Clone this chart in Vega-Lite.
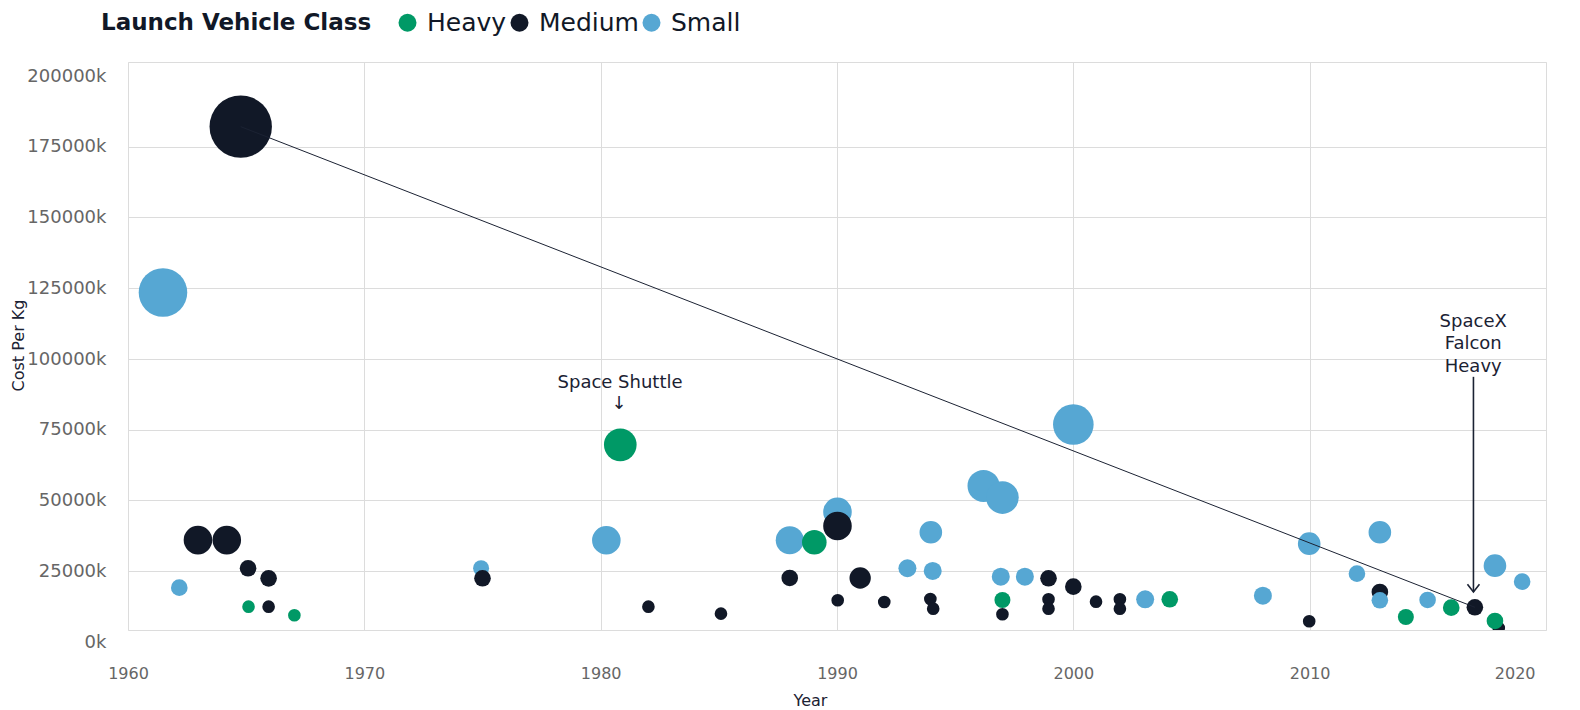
{
  "$schema": "https://vega.github.io/schema/vega-lite/v6.json",
  "autosize": "none",
  "width": 1418,
  "height": 568,
  "padding": {"left": 128, "top": 62, "right": 34, "bottom": 80},
  "background": "white",
  "config": {
    "font": "DejaVu Sans",
    "view": {"stroke": "#dcdcdc", "strokeWidth": 1},
    "axis": {
      "gridColor": "#dcdcdc",
      "gridWidth": 1,
      "ticks": false,
      "domain": false,
      "labelColor": "#666666",
      "labelFontSize": 16,
      "titleColor": "#1b2233",
      "titleFontSize": 16,
      "titleFontWeight": "normal"
    }
  },
  "datasets": {
    "launches": [
      {"Year": 1961.48, "Cost": 123500, "Class": "Small", "Size": 590},
      {"Year": 1962.17, "Cost": 19200, "Class": "Small", "Size": 69},
      {"Year": 1962.96, "Cost": 36000, "Class": "Medium", "Size": 204},
      {"Year": 1964.18, "Cost": 36000, "Class": "Medium", "Size": 204},
      {"Year": 1965.08, "Cost": 26050, "Class": "Medium", "Size": 69},
      {"Year": 1965.95, "Cost": 22500, "Class": "Medium", "Size": 69},
      {"Year": 1965.1, "Cost": 12480, "Class": "Heavy", "Size": 40},
      {"Year": 1965.95, "Cost": 12480, "Class": "Medium", "Size": 40},
      {"Year": 1967.04, "Cost": 9440, "Class": "Heavy", "Size": 40},
      {"Year": 1964.77, "Cost": 182100, "Class": "Medium", "Size": 973},
      {"Year": 1974.94, "Cost": 26060, "Class": "Small", "Size": 64},
      {"Year": 1975.0, "Cost": 22520, "Class": "Medium", "Size": 69},
      {"Year": 1980.24, "Cost": 35960, "Class": "Small", "Size": 204},
      {"Year": 1980.83, "Cost": 69660, "Class": "Heavy", "Size": 266},
      {"Year": 1982.02, "Cost": 12480, "Class": "Medium", "Size": 40},
      {"Year": 1985.09, "Cost": 10020, "Class": "Medium", "Size": 40},
      {"Year": 1988.0, "Cost": 35960, "Class": "Small", "Size": 196},
      {"Year": 1988.0, "Cost": 22630, "Class": "Medium", "Size": 69},
      {"Year": 1989.04, "Cost": 35260, "Class": "Heavy", "Size": 151},
      {"Year": 1990.02, "Cost": 45970, "Class": "Small", "Size": 204},
      {"Year": 1990.02, "Cost": 41020, "Class": "Medium", "Size": 204},
      {"Year": 1990.03, "Cost": 14740, "Class": "Medium", "Size": 40},
      {"Year": 1990.98, "Cost": 22630, "Class": "Medium", "Size": 114},
      {"Year": 1992.0, "Cost": 14140, "Class": "Medium", "Size": 40},
      {"Year": 1992.98, "Cost": 26060, "Class": "Small", "Size": 81},
      {"Year": 1993.97, "Cost": 38790, "Class": "Small", "Size": 128},
      {"Year": 1994.05, "Cost": 25100, "Class": "Small", "Size": 81},
      {"Year": 1993.95, "Cost": 15200, "Class": "Medium", "Size": 40},
      {"Year": 1994.07, "Cost": 11780, "Class": "Medium", "Size": 40},
      {"Year": 1996.2, "Cost": 55160, "Class": "Small", "Size": 256},
      {"Year": 1997.0, "Cost": 51030, "Class": "Small", "Size": 266},
      {"Year": 1996.93, "Cost": 23090, "Class": "Small", "Size": 81},
      {"Year": 1997.95, "Cost": 23090, "Class": "Small", "Size": 81},
      {"Year": 1998.95, "Cost": 22520, "Class": "Medium", "Size": 69},
      {"Year": 2000.0, "Cost": 76840, "Class": "Small", "Size": 412},
      {"Year": 2000.0, "Cost": 19560, "Class": "Medium", "Size": 69},
      {"Year": 1997.0, "Cost": 14850, "Class": "Heavy", "Size": 64},
      {"Year": 1997.0, "Cost": 9790, "Class": "Medium", "Size": 40},
      {"Year": 1998.95, "Cost": 15100, "Class": "Medium", "Size": 40},
      {"Year": 1998.95, "Cost": 11780, "Class": "Medium", "Size": 40},
      {"Year": 2000.96, "Cost": 14250, "Class": "Medium", "Size": 40},
      {"Year": 2001.97, "Cost": 15100, "Class": "Medium", "Size": 40},
      {"Year": 2001.97, "Cost": 11780, "Class": "Medium", "Size": 40},
      {"Year": 2003.04, "Cost": 15100, "Class": "Small", "Size": 81},
      {"Year": 2004.08, "Cost": 15100, "Class": "Heavy", "Size": 69},
      {"Year": 2008.02, "Cost": 16370, "Class": "Small", "Size": 81},
      {"Year": 2009.98, "Cost": 7320, "Class": "Medium", "Size": 40},
      {"Year": 2009.98, "Cost": 34760, "Class": "Small", "Size": 128},
      {"Year": 2012.0, "Cost": 24150, "Class": "Small", "Size": 69},
      {"Year": 2012.97, "Cost": 38790, "Class": "Small", "Size": 128},
      {"Year": 2012.97, "Cost": 17680, "Class": "Medium", "Size": 69},
      {"Year": 2012.97, "Cost": 14740, "Class": "Small", "Size": 69},
      {"Year": 2014.07, "Cost": 8840, "Class": "Heavy", "Size": 64},
      {"Year": 2014.99, "Cost": 14850, "Class": "Small", "Size": 69},
      {"Year": 2015.99, "Cost": 12130, "Class": "Heavy", "Size": 69},
      {"Year": 2016.99, "Cost": 12270, "Class": "Medium", "Size": 69},
      {"Year": 2017.84, "Cost": 26980, "Class": "Small", "Size": 128},
      {"Year": 2018.0, "Cost": 5000, "Class": "Medium", "Size": 40},
      {"Year": 2017.84, "Cost": 7430, "Class": "Heavy", "Size": 69},
      {"Year": 2018.99, "Cost": 21330, "Class": "Small", "Size": 69}
    ],
    "trend": [
      {"Year": 1964.77, "Cost": 182100},
      {"Year": 2016.99, "Cost": 12270}
    ],
    "notes": [
      {"Year": 1980.82, "Cost": 91580, "Text": "Space Shuttle"},
      {"Year": 1980.78, "Cost": 84160, "Text": "↓"},
      {"Year": 2016.92, "Cost": 112975, "Text": "SpaceX"},
      {"Year": 2016.92, "Cost": 105160, "Text": "Falcon"},
      {"Year": 2016.92, "Cost": 97310, "Text": "Heavy"}
    ],
    "arrow": [
      {"Year": 2016.93, "Top": 93700, "Tip": 17680}
    ]
  },
  "encoding": {
    "x": {
      "field": "Year",
      "type": "quantitative",
      "scale": {"domain": [1960, 2020], "nice": false, "zero": false},
      "axis": {
        "values": [1960, 1970, 1980, 1990, 2000, 2010, 2020],
        "format": "d",
        "labelFlush": false,
        "labelAlign": {"condition": {"test": "datum.value == 2020", "value": "right"}, "value": "center"},
        "labelOffset": {"condition": {"test": "datum.value == 2020", "value": -11}, "value": 0},
        "labelPadding": 35,
        "title": "Year",
        "titleX": 682,
        "titleY": 70,
        "titleBaseline": "middle",
        "titleAnchor": "middle"
      }
    }
  },
  "layer": [
    {
      "data": {"name": "trend"},
      "mark": {"type": "point", "opacity": 0},
      "encoding": {
        "y": {
          "field": "Cost",
          "type": "quantitative",
          "scale": {"domain": [4240, 204947], "nice": false, "zero": false},
          "axis": {
            "orient": "left",
            "values": [25000, 50000, 75000, 100000, 125000, 150000, 175000],
            "labels": false,
            "grid": true,
            "title": null
          }
        }
      }
    },
    {
      "layer": [
        {
          "data": {"name": "launches"},
          "mark": {"type": "circle", "opacity": 1, "clip": true},
          "encoding": {
            "y": {
              "field": "Cost",
              "type": "quantitative",
              "scale": {"domain": [0, 200000], "range": [580, 14], "nice": false, "zero": false},
              "axis": {
                "orient": "left",
                "values": [0, 25000, 50000, 75000, 100000, 125000, 150000, 175000, 200000],
                "labelExpr": "datum.value + 'k'",
                "labelFontSize": 18,
                "labelPadding": 22,
                "grid": false,
                "title": "Cost Per Kg",
                "titleX": -110,
                "titleY": 283,
                "titleBaseline": "middle"
              }
            },
            "color": {
              "field": "Class",
              "type": "nominal",
              "scale": {"domain": ["Heavy", "Medium", "Small"], "range": ["#009966", "#111827", "#56a7d3"]},
              "legend": {
                "orient": "none",
                "legendX": -27,
                "legendY": -52,
                "direction": "horizontal",
                "title": "Launch Vehicle Class",
                "titleLimit": 500,
                "titleOrient": "left",
                "titleFontSize": 23,
                "titleFontWeight": "bold",
                "titleColor": "#111827",
                "titlePadding": 23,
                "titleBaseline": "middle",
                "labelFontSize": 25,
                "labelColor": "#111827",
                "labelFontWeight": "normal",
                "labelLimit": 300,
                "symbolType": "circle",
                "symbolSize": 324,
                "symbolStrokeWidth": 0,
                "symbolOpacity": 1,
                "labelOffset": 7,
                "columnPadding": 0
              }
            },
            "size": {
              "field": "Size",
              "type": "quantitative",
              "scale": {"type": "linear", "domain": [0, 1000], "range": [0, 4000], "zero": true},
              "legend": null
            }
          }
        },
        {
          "data": {"name": "trend"},
          "mark": {"type": "line", "color": "#1b2233", "strokeWidth": 1},
          "encoding": {
            "y": {"field": "Cost", "type": "quantitative"}
          }
        },
        {
          "data": {"name": "arrow"},
          "mark": {"type": "rule", "color": "#1b2233", "strokeWidth": 1.6},
          "encoding": {
            "y": {"field": "Top", "type": "quantitative"},
            "y2": {"field": "Tip"}
          }
        },
        {
          "data": {"name": "arrow"},
          "mark": {"type": "point", "shape": "M-1,-1.3L0,0L1,-1.3", "filled": false, "color": "#1b2233", "strokeWidth": 1.6, "size": 144, "opacity": 1},
          "encoding": {
            "y": {"field": "Tip", "type": "quantitative"}
          }
        },
        {
          "data": {"name": "notes"},
          "mark": {"type": "text", "fontSize": 18, "color": "#1b2233", "align": "center", "baseline": "middle"},
          "encoding": {
            "y": {"field": "Cost", "type": "quantitative"},
            "text": {"field": "Text"}
          }
        }
      ]
    }
  ],
  "resolve": {"scale": {"y": "independent"}, "axis": {"y": "independent"}}
}
